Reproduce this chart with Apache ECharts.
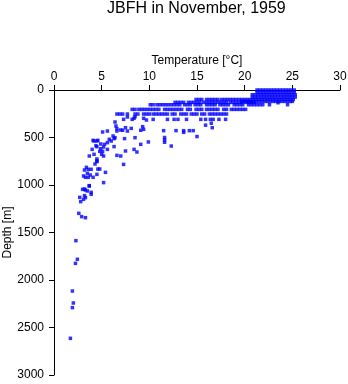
<!DOCTYPE html>
<html>
<head>
<meta charset="utf-8">
<script src="https://cdn.jsdelivr.net/npm/echarts@6/dist/echarts.min.js"></script>
<style>
html,body{margin:0;padding:0;background:#fff;}
#main{width:348px;height:384px;}
</style>
</head>
<body>
<div id="main"></div>
<script>
var titleText='JBFH in November, 1959';
var xName='Temperature [°C]';
var yName='Depth [m]';

// depths [m] of the dense near-surface rows, and temperatures read along each row
var rowDepth=[0,25,50,75,100,120,130,155,204,253];
var rowTemp=[
	[21.3,21.6,21.9,22.2,22.5,22.8,23.1,23.4,23.7,24.0,24.3,24.6,24.9,25.2],
	[21.3,21.6,21.9,22.2,22.5,22.8,23.1,23.4,23.7,24.0,24.3,24.6,24.9,25.2],
	[20.8,21.1,21.4,21.7,22.0,22.3,22.6,22.9,23.2,23.5,23.8,24.1,24.4,24.7,25.0,25.3],
	[20.8,21.1,21.4,21.7,22.0,22.3,22.6,22.9,23.2,23.5,23.8,24.1,24.4,24.7,25.0,25.3],
	[14.9,15.2,15.5,16.0,16.3,16.6,16.9,17.2,17.6,17.9,18.2,18.5,18.8,19.1,19.4,19.7,20.0,20.3,20.6,20.9,21.2,21.5,21.8,22.1,22.4,22.7,23.0,23.3,23.6,23.9,24.2,24.5,24.8,25.1],
	[19.7,20.0,20.3,20.6,20.9,21.2,21.5,21.8,22.1,22.4,22.7,23.0,23.3,23.6,23.9,24.2,24.5,24.8,25.0],
	[12.7,13.0,13.3,13.6,14.1,14.4,14.7,15.0,15.3,15.7,16.0,16.3,16.6,16.9,17.2,17.5,17.8,18.1,18.5,18.8,19.1,19.4,19.7,20.1,20.4,20.7,21.0],
	[10.1,10.4,10.8,11.1,11.4,11.7,12.0,12.3,12.6,12.9,13.2,13.7,14.0,14.3,14.8,15.1,15.4,16.0,16.3,16.6,16.9,17.4,17.7,18.0,18.3,18.9,19.2,19.5,19.8,20.4,20.7,21.0,21.3,21.6,21.9,22.6,24.5],
	[8.2,8.5,8.9,9.2,9.5,9.8,10.1,10.4,10.7,11.0,11.6,11.9,12.2,12.5,12.8,13.1,13.4,14.0,14.3,14.9,15.2,15.5,16.0,16.3,16.6,16.9,17.2,17.8,18.1,18.6,18.9,19.2,19.5,19.8,20.1],
	[6.6,6.9,7.2,7.7,8.5,8.8,9.4,9.7,10.0,10.4,10.7,11.0,11.3,11.6,11.9,12.4,12.7,13.3,13.6,13.9,14.4,14.7,15.0,15.5,15.8,16.3,16.6,16.9,17.2,17.5,17.8,18.1]
];

// single readings below the mixed layer
var castTemp=[
	23.5,
	7.3,7.7,8.2,8.4,8.5,9.4,9.7,10.4,11.9,12.6,13.0,13.9,15.4,15.9,16.4,16.7,17.3,18.0,
	15.9,16.5,16.6,
	6.4,6.5,6.6,6.6,7.0,7.2,7.5,7.7,8.1,9.3,9.4,9.1,
	11.5,12.8,13.6,14.2,14.6,13.6,
	5.1,5.6,6.2,6.3,6.4,15.0,11.6,11.6,11.6,7.4,8.5,9.1,9.9,
	4.1,4.6,4.2,4.5,4.9,5.8,6.0,5.6,5.3,
	4.0,4.5,4.8,5.1,5.2,5.0,4.9,5.2,5.6,6.3,12.3,4.4,
	3.7,4.2,4.5,4.5,6.6,7.0,7.5,8.4,8.7,
	4.3,4.5,7.3,3.4,3.2,3.6,3.9,4.6,4.8,5.4,
	3.5,3.1,3.3,3.6,3.8,4.1,4.5,
	5.2,3.7,3.7,3.2,3.0,3.3,3.5,3.9,3.9,
	3.2,3.3,3.1,2.7,2.8,
	2.6,2.9,3.3,
	2.3,2.45,2.25,1.93,2.03,1.93,1.72
];
var castDepth=[
	134,
	309,284,309,298,281,298,316,309,309,309,309,309,309,309,309,309,309,309,
	370,350,397,
	337,379,407,432,421,424,397,432,404,386,414,424,
	428,428,428,428,428,446,
	442,432,484,512,502,490,500,525,550,512,502,572,547,
	530,530,537,537,568,519,537,554,572,
	625,597,646,646,695,677,618,600,625,596,590,586,
	695,677,726,747,688,695,642,625,653,
	779,754,783,814,842,835,835,832,832,867,
	877,905,919,919,895,919,888,
	975,1007,1011,1042,1046,1053,1063,1077,1098,
	1112,1133,1151,1130,1175,
	1298,1333,1344,
	1586,1782,1825,2116,2242,2291,2614
];

var points=[];
for(var i=0;i<rowDepth.length;i++){
	for(var j=0;j<rowTemp[i].length;j++){
		points.push([rowTemp[i][j],rowDepth[i]]);
	}
}
for(var k=0;k<castTemp.length;k++){
	points.push([castTemp[k],castDepth[k]]);
}

var font='Liberation Sans';
var myChart=echarts.init(document.getElementById('main'));
var option={
	animation:false,
	backgroundColor:'#fff',
	title:{
		text:titleText,
		left:107,
		top:1,
		padding:0,
		textStyle:{fontSize:16,fontWeight:'normal',color:'#000',fontFamily:font}
	},
	grid:{left:54,right:8,top:90,bottom:9,containLabel:false,outerBoundsMode:'none'},
	xAxis:{
		type:'value',
		position:'top',
		min:0,max:30,interval:5,
		name:xName,
		nameLocation:'middle',
		nameGap:23,
		nameMoveOverlap:false,
		nameTextStyle:{fontSize:12,color:'#000',fontFamily:font},
		axisLine:{show:true,lineStyle:{color:'#000',width:1}},
		axisTick:{show:true,length:5,lineStyle:{color:'#000'}},
		axisLabel:{fontSize:12,color:'#000',margin:7,fontFamily:font},
		splitLine:{show:false}
	},
	yAxis:{
		type:'value',
		inverse:true,
		min:0,max:3000,interval:500,
		name:yName,
		nameLocation:'middle',
		nameGap:40,
		nameMoveOverlap:false,
		nameTextStyle:{fontSize:12,color:'#000',fontFamily:font},
		axisLine:{show:true,lineStyle:{color:'#000',width:1}},
		axisTick:{show:true,length:5,lineStyle:{color:'#000'}},
		axisLabel:{fontSize:12,color:'#000',margin:10,fontFamily:font,
			formatter:function(v){return String(v);}},
		splitLine:{show:false}
	},
	series:[{
		type:'scatter',
		symbol:'rect',
		symbolSize:3.5,
		itemStyle:{color:'#0000ff'},
		data:points
	}]
};
myChart.setOption(option);
</script>
</body>
</html>
